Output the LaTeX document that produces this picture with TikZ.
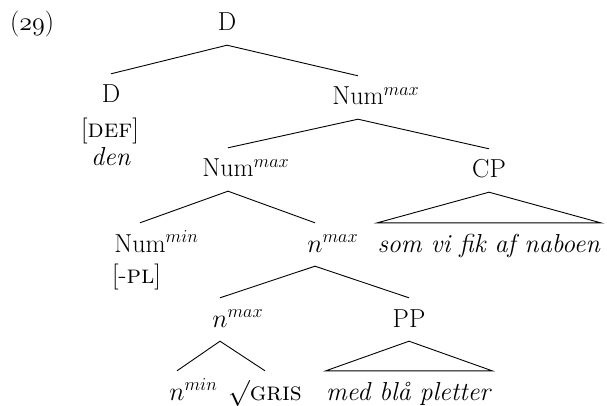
\RequirePackage{fix-cm}
\documentclass[tikz,border=0pt]{standalone}
\usepackage{fontspec}
\begin{document}
\begin{tikzpicture}[x=1pt,y=-1pt,
  lab/.style={anchor=base, inner xsep=0pt, inner ysep=11.5pt, text height=17.5pt, text depth=2.5pt, font=\fontsize{26}{30}\selectfont},
  plain/.style={anchor=base, inner sep=0pt, font=\fontsize{26}{30}\selectfont},
  edge/.style={line width=0.9pt, line join=miter}]
\useasboundingbox (0,0) rectangle (607,406);
\node[plain, anchor=base west] (ex) at (10,31) {($\mathnormal{29}$)};
\node[lab] (root) at (227,31) {D};
\node[lab] (d) at (111,103) {D};
\node[plain] (def) at (110,138) {[\textsc{def}]};
\node[plain] (den) at (111,165) {\textit{den}};
\node[lab] (num1) at (358,105) {Num\rlap{$^{max}$}};
\node[lab] (num2) at (228,177) {Num\rlap{$^{max}$}};
\node[lab] (cp) at (489,178) {CP};
\node[lab] (som) at (489,252) {\textit{som vi fik af naboen}};
\node[lab] (nummin) at (140,252) {Num\rlap{$^{min}$}};
\node[plain, anchor=base west] (pl) at (112,283) {[-\textsc{pl}]};
\node[lab] (nmax1) at (315,252) {$n$\rlap{$^{max}$}};
\node[lab] (nmax2) at (220,327) {$n$\rlap{$^{max}$}};
\node[lab] (pp) at (409,327) {PP};
\node[lab] (nmin) at (177,400) {$n$\rlap{$^{min}$}};
\node[lab] (gris) at (265,400) {$\surd$\textsc{gris}};
\node[lab] (med) at (409,400) {\textit{med blå pletter}};
\draw[edge] (d.north) -- (root.south) -- (num1.north);
\draw[edge] (num2.north) -- (num1.south) -- (cp.north);
\draw[edge] (cp.south) -- (som.north west) -- (som.north east) -- cycle;
\draw[edge] (nummin.north) -- (num2.south) -- (nmax1.north);
\draw[edge] (nmax2.north) -- (nmax1.south) -- (pp.north);
\draw[edge] (nmin.north) -- (nmax2.south) -- (gris.north);
\draw[edge] (pp.south) -- (med.north west) -- (med.north east) -- cycle;
\end{tikzpicture}
\end{document}
